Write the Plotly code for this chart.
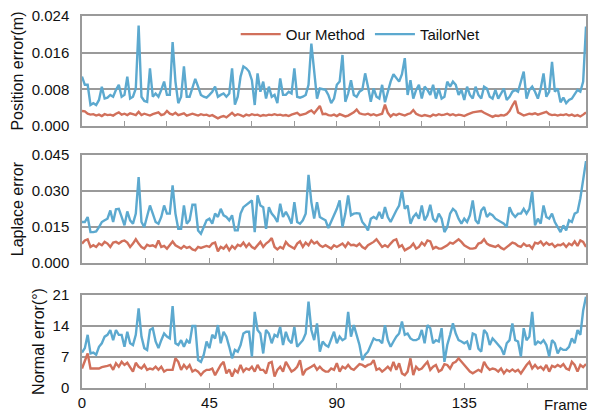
import plotly.graph_objects as go

frames = list(range(179))

pos_ours = [
0.0033,0.0032,0.0027,0.0025,0.0026,0.0023,0.0025,0.0022,0.0026,0.0024,
0.0025,0.0023,0.0027,0.0030,0.0025,0.0027,0.0024,0.0028,0.0026,0.0024,
0.0031,0.0024,0.0027,0.0025,0.0023,0.0026,0.0028,0.0030,0.0024,0.0026,
0.0033,0.0027,0.0025,0.0029,0.0024,0.0026,0.0028,0.0023,0.0025,0.0027,
0.0025,0.0023,0.0026,0.0024,0.0025,0.0022,0.0024,0.0021,0.0017,0.0020,
0.0022,0.0019,0.0024,0.0029,0.0023,0.0026,0.0024,0.0021,0.0025,0.0023,
0.0026,0.0024,0.0025,0.0022,0.0024,0.0023,0.0025,0.0024,0.0026,0.0024,
0.0025,0.0023,0.0024,0.0022,0.0025,0.0027,0.0029,0.0024,0.0026,0.0027,
0.0031,0.0034,0.0028,0.0036,0.0044,0.0026,0.0027,0.0024,0.0023,0.0025,
0.0022,0.0026,0.0024,0.0021,0.0023,0.0027,0.0030,0.0036,0.0028,0.0026,
0.0025,0.0027,0.0024,0.0026,0.0023,0.0025,0.0027,0.0047,0.0029,0.0021,
0.0026,0.0024,0.0027,0.0025,0.0023,0.0026,0.0028,0.0035,0.0027,0.0024,
0.0022,0.0024,0.0023,0.0021,0.0025,0.0023,0.0026,0.0024,0.0025,0.0027,
0.0024,0.0026,0.0023,0.0025,0.0024,0.0022,0.0025,0.0028,0.0030,0.0031,
0.0032,0.0033,0.0029,0.0026,0.0024,0.0020,0.0023,0.0022,0.0024,0.0023,
0.0026,0.0033,0.0045,0.0055,0.0030,0.0026,0.0023,0.0025,0.0027,0.0026,
0.0028,0.0025,0.0027,0.0029,0.0031,0.0026,0.0024,0.0025,0.0023,0.0025,
0.0024,0.0026,0.0023,0.0025,0.0022,0.0024,0.0021,0.0025,0.0030]

pos_tailor = [
0.0108,0.0090,0.0090,0.0046,0.0050,0.0046,0.0057,0.0086,0.0060,0.0062,
0.0068,0.0064,0.0079,0.0090,0.0064,0.0068,0.0108,0.0060,0.0064,0.0082,
0.0219,0.0064,0.0055,0.0053,0.0126,0.0064,0.0071,0.0064,0.0079,0.0097,
0.0068,0.0068,0.0183,0.0097,0.0050,0.0064,0.0130,0.0064,0.0064,0.0086,
0.0103,0.0086,0.0068,0.0064,0.0062,0.0068,0.0075,0.0086,0.0064,0.0068,
0.0071,0.0064,0.0071,0.0126,0.0047,0.0064,0.0108,0.0130,0.0126,0.0119,
0.0100,0.0046,0.0115,0.0075,0.0097,0.0060,0.0086,0.0064,0.0068,0.0050,
0.0104,0.0068,0.0068,0.0075,0.0071,0.0126,0.0064,0.0062,0.0064,0.0068,
0.0090,0.0180,0.0119,0.0060,0.0082,0.0081,0.0079,0.0068,0.0050,0.0060,
0.0090,0.0097,0.0155,0.0053,0.0071,0.0100,0.0068,0.0064,0.0075,0.0079,
0.0115,0.0086,0.0053,0.0082,0.0064,0.0060,0.0090,0.0052,0.0075,0.0097,
0.0113,0.0104,0.0097,0.0113,0.0148,0.0068,0.0100,0.0060,0.0079,0.0090,
0.0060,0.0086,0.0079,0.0068,0.0090,0.0060,0.0082,0.0060,0.0064,0.0097,
0.0086,0.0097,0.0090,0.0068,0.0079,0.0057,0.0086,0.0068,0.0060,0.0086,
0.0068,0.0060,0.0086,0.0082,0.0064,0.0060,0.0079,0.0060,0.0071,0.0082,
0.0057,0.0064,0.0075,0.0079,0.0075,0.0097,0.0119,0.0060,0.0079,0.0086,
0.0075,0.0060,0.0082,0.0115,0.0064,0.0075,0.0140,0.0075,0.0082,0.0052,
0.0062,0.0050,0.0057,0.0060,0.0071,0.0079,0.0075,0.0097,0.0217]

lap_ours = [
0.0081,0.0094,0.0099,0.0067,0.0074,0.0067,0.0081,0.0074,0.0088,0.0081,
0.0067,0.0085,0.0088,0.0081,0.0090,0.0094,0.0085,0.0067,0.0081,0.0099,
0.0081,0.0067,0.0060,0.0076,0.0071,0.0074,0.0067,0.0094,0.0067,0.0071,
0.0060,0.0074,0.0090,0.0074,0.0067,0.0060,0.0071,0.0063,0.0067,0.0057,
0.0053,0.0067,0.0063,0.0067,0.0071,0.0067,0.0081,0.0085,0.0049,0.0067,
0.0060,0.0074,0.0053,0.0071,0.0060,0.0076,0.0071,0.0085,0.0067,0.0081,
0.0067,0.0060,0.0074,0.0088,0.0067,0.0081,0.0090,0.0104,0.0067,0.0057,
0.0067,0.0060,0.0088,0.0074,0.0067,0.0060,0.0081,0.0090,0.0067,0.0085,
0.0074,0.0094,0.0081,0.0088,0.0074,0.0067,0.0074,0.0067,0.0060,0.0074,
0.0067,0.0074,0.0081,0.0067,0.0085,0.0074,0.0076,0.0071,0.0081,0.0067,
0.0060,0.0074,0.0081,0.0088,0.0099,0.0081,0.0067,0.0074,0.0067,0.0081,
0.0094,0.0099,0.0067,0.0074,0.0053,0.0060,0.0067,0.0081,0.0060,0.0067,
0.0085,0.0074,0.0094,0.0090,0.0060,0.0067,0.0060,0.0060,0.0067,0.0074,
0.0085,0.0081,0.0090,0.0099,0.0088,0.0074,0.0067,0.0060,0.0060,0.0063,
0.0081,0.0085,0.0099,0.0081,0.0074,0.0071,0.0067,0.0074,0.0063,0.0057,
0.0067,0.0076,0.0085,0.0081,0.0071,0.0067,0.0081,0.0071,0.0074,0.0060,
0.0085,0.0081,0.0090,0.0074,0.0085,0.0076,0.0081,0.0067,0.0076,0.0074,
0.0081,0.0067,0.0081,0.0074,0.0090,0.0071,0.0094,0.0088,0.0067]

lap_tailor = [
0.0171,0.0171,0.0192,0.0129,0.0129,0.0132,0.0150,0.0171,0.0178,0.0185,
0.0219,0.0171,0.0224,0.0226,0.0192,0.0157,0.0215,0.0178,0.0164,0.0206,
0.0358,0.0171,0.0150,0.0192,0.0240,0.0206,0.0171,0.0164,0.0192,0.0240,
0.0206,0.0206,0.0324,0.0206,0.0143,0.0143,0.0240,0.0164,0.0178,0.0243,
0.0243,0.0136,0.0122,0.0150,0.0178,0.0185,0.0164,0.0206,0.0192,0.0226,
0.0199,0.0192,0.0178,0.0199,0.0136,0.0136,0.0206,0.0233,0.0243,0.0251,
0.0261,0.0129,0.0282,0.0240,0.0233,0.0143,0.0233,0.0206,0.0192,0.0171,
0.0247,0.0192,0.0213,0.0192,0.0164,0.0254,0.0171,0.0164,0.0178,0.0206,
0.0368,0.0254,0.0185,0.0254,0.0192,0.0185,0.0178,0.0146,0.0171,0.0199,
0.0226,0.0261,0.0150,0.0206,0.0282,0.0199,0.0206,0.0208,0.0206,0.0171,
0.0157,0.0136,0.0185,0.0192,0.0185,0.0213,0.0185,0.0233,0.0192,0.0171,
0.0199,0.0219,0.0240,0.0303,0.0226,0.0240,0.0164,0.0192,0.0206,0.0185,
0.0240,0.0178,0.0199,0.0243,0.0185,0.0171,0.0206,0.0185,0.0129,0.0150,
0.0206,0.0226,0.0215,0.0185,0.0164,0.0185,0.0171,0.0199,0.0261,0.0178,
0.0164,0.0219,0.0233,0.0192,0.0206,0.0199,0.0185,0.0178,0.0171,0.0164,
0.0150,0.0233,0.0206,0.0192,0.0206,0.0206,0.0226,0.0206,0.0226,0.0299,
0.0157,0.0185,0.0164,0.0240,0.0192,0.0185,0.0206,0.0171,0.0150,0.0129,
0.0157,0.0136,0.0178,0.0171,0.0206,0.0213,0.0270,0.0350,0.0425]

nor_ours = [
4.4,5.9,7.8,4.4,4.4,4.3,4.4,4.7,4.8,5.0,
5.2,4.1,5.6,4.8,5.9,5.2,5.7,4.7,3.7,5.7,
4.8,4.4,5.2,4.1,4.4,4.2,4.8,4.1,4.8,3.7,
4.1,4.1,4.1,6.7,5.9,4.1,5.2,4.4,5.2,3.7,
4.1,3.7,2.9,3.7,4.1,4.1,4.4,2.9,4.1,5.2,
5.9,3.3,4.2,2.6,4.1,3.5,5.2,3.7,4.4,4.1,
4.8,3.7,5.2,4.1,4.1,3.3,5.6,5.9,2.6,4.1,
4.8,3.7,5.9,4.8,3.7,4.1,4.8,6.3,2.9,4.1,
4.4,4.8,5.2,4.1,4.8,4.1,3.7,3.7,4.4,4.1,
5.6,3.7,4.8,4.4,5.2,4.4,4.1,4.8,5.4,5.2,
4.8,5.2,5.4,6.3,4.1,4.4,3.7,4.2,4.8,4.1,
5.9,4.1,5.6,3.3,2.9,3.7,6.7,2.9,4.8,4.1,
4.4,5.2,5.9,4.1,4.8,5.2,3.7,4.1,5.4,5.2,
4.4,5.6,5.9,6.7,5.9,5.2,4.4,3.7,3.3,3.7,
4.1,3.7,5.9,4.8,4.1,4.4,4.2,3.7,4.4,3.3,
4.1,3.7,4.2,3.7,4.1,3.3,4.4,5.2,5.9,4.4,
5.2,4.4,4.8,4.1,5.2,3.7,5.0,4.7,5.2,4.8,
5.4,4.4,4.1,5.9,5.2,3.7,5.2,4.7,5.4]

nor_tailor = [
8.0,9.0,12.0,7.8,8.0,7.5,9.3,10.1,11.6,12.0,
13.1,10.8,13.1,12.0,12.0,9.3,12.7,10.1,9.7,12.0,
18.0,11.6,9.0,8.6,13.1,13.5,10.5,9.0,10.8,12.3,
11.6,11.2,18.5,10.1,9.7,10.8,9.3,10.8,10.1,14.0,
14.0,6.3,5.9,7.5,10.5,9.0,12.0,11.2,14.2,10.1,
12.7,11.6,9.3,6.7,8.6,8.2,9.7,12.3,12.7,12.7,
7.1,17.2,13.1,12.3,7.8,13.1,12.3,10.1,12.0,11.6,
13.8,9.7,12.7,10.8,10.1,13.8,9.3,10.1,10.8,12.3,
19.5,13.1,10.8,14.6,8.2,10.5,9.7,9.3,10.8,12.7,
10.1,11.6,10.8,11.2,17.2,11.6,14.2,11.6,9.7,6.3,
7.5,8.2,9.7,11.2,10.8,10.8,10.1,14.2,10.8,9.3,
10.5,11.6,12.3,15.0,12.0,12.3,11.2,10.8,10.8,11.2,
13.1,10.1,14.2,13.5,10.1,10.8,10.5,13.5,5.9,9.7,
12.0,14.6,12.3,10.8,10.5,10.1,10.5,8.6,12.3,12.0,
8.9,8.2,13.1,12.3,9.7,11.2,10.5,9.7,9.0,7.5,
10.1,10.8,14.6,10.8,10.5,7.1,13.5,10.8,11.6,17.2,
9.7,10.5,10.1,10.8,9.7,7.1,10.8,10.1,7.8,9.0,
8.6,8.6,9.3,11.2,10.1,13.1,12.0,17.5,20.6]

x_ticks_top = [0, 15, 30, 45, 60, 75, 90, 105, 120, 135, 150, 165]
x_ticks = [0, 22.5, 45, 67.5, 90, 112.5, 135, 157.5]
x_labels = ["0", "", "45", "", "90", "", "135", ""]

RED = "#D1705B"
BLUE = "#5CA9CF"
GRID = "#9a9a9a"
FONT = "Liberation Sans, Arial, sans-serif"

fig = go.Figure()
panels = [
    (pos_ours, pos_tailor, "x", "y", True),
    (lap_ours, lap_tailor, "x2", "y2", False),
    (nor_ours, nor_tailor, "x3", "y3", False),
]
for ours, tailor, xa, ya, show in panels:
    fig.add_trace(go.Scatter(x=frames, y=ours, mode="lines", name="Our Method",
                             line=dict(color=RED, width=2.4), xaxis=xa, yaxis=ya,
                             showlegend=show))
    fig.add_trace(go.Scatter(x=frames, y=tailor, mode="lines", name="TailorNet",
                             line=dict(color=BLUE, width=2.4), xaxis=xa, yaxis=ya,
                             showlegend=show))

xcommon = dict(range=[0, 178], showline=True, linecolor=GRID, linewidth=1.5, mirror=True,
               showgrid=False, zeroline=False, ticks="inside", ticklen=5, tickcolor=GRID,
               tickwidth=1.2, automargin=False,
               tickfont=dict(size=15, color="#111", family=FONT))
ycommon = dict(showline=True, linecolor=GRID, linewidth=1.5, mirror=True, showgrid=True,
               gridcolor=GRID, gridwidth=1.5, zeroline=False, ticks="",
               ticklabelstandoff=8, automargin=False,
               tickfont=dict(size=15, color="#111", family=FONT))

fig.update_layout(
    width=592, height=418,
    margin=dict(l=82, r=6, t=16, b=30, autoexpand=False),
    paper_bgcolor="white", plot_bgcolor="white",
    font=dict(family=FONT, color="#111"),
    xaxis=dict(**xcommon, domain=[0, 1], anchor="y", tickvals=x_ticks_top, showticklabels=False),
    xaxis2=dict(**xcommon, domain=[0, 1], anchor="y2", matches="x", tickvals=x_ticks, showticklabels=False),
    xaxis3=dict(**xcommon, domain=[0, 1], anchor="y3", matches="x", tickvals=x_ticks, ticktext=x_labels),
    yaxis=dict(**ycommon, domain=[0.704, 1.0], range=[0, 0.024], tickvals=[0, 0.008, 0.016, 0.024],
               tickformat=".3f", title=dict(text="Position error(m)", font=dict(size=16, family=FONT), standoff=4)),
    yaxis2=dict(**ycommon, domain=[0.336, 0.626], range=[0, 0.045], tickvals=[0, 0.015, 0.03, 0.045],
                tickformat=".3f", title=dict(text="Laplace error", font=dict(size=16, family=FONT), standoff=4)),
    yaxis3=dict(**ycommon, domain=[0, 0.25], range=[0, 21], tickvals=[0, 7, 14, 21],
                title=dict(text="Normal error(°)", font=dict(size=16, family=FONT), standoff=4)),
    legend=dict(orientation="h", x=0.305, y=0.995, xanchor="left", yanchor="top",
                bgcolor="rgba(255,255,255,0)", font=dict(size=15, family=FONT),
                itemwidth=40, tracegroupgap=0),
    annotations=[dict(text="Frame", x=1.005, y=0, xref="paper", yref="paper",
                      xanchor="right", yanchor="top", yshift=-6, showarrow=False,
                      font=dict(size=15, family=FONT, color="#111"))],
)

assert all(len(a) == 179 for a in [pos_ours, pos_tailor, lap_ours, lap_tailor, nor_ours, nor_tailor])
fig.write_html("out.html", config={"displayModeBar": False},
               post_script="document.body.style.margin='0';document.body.style.overflow='hidden';")
